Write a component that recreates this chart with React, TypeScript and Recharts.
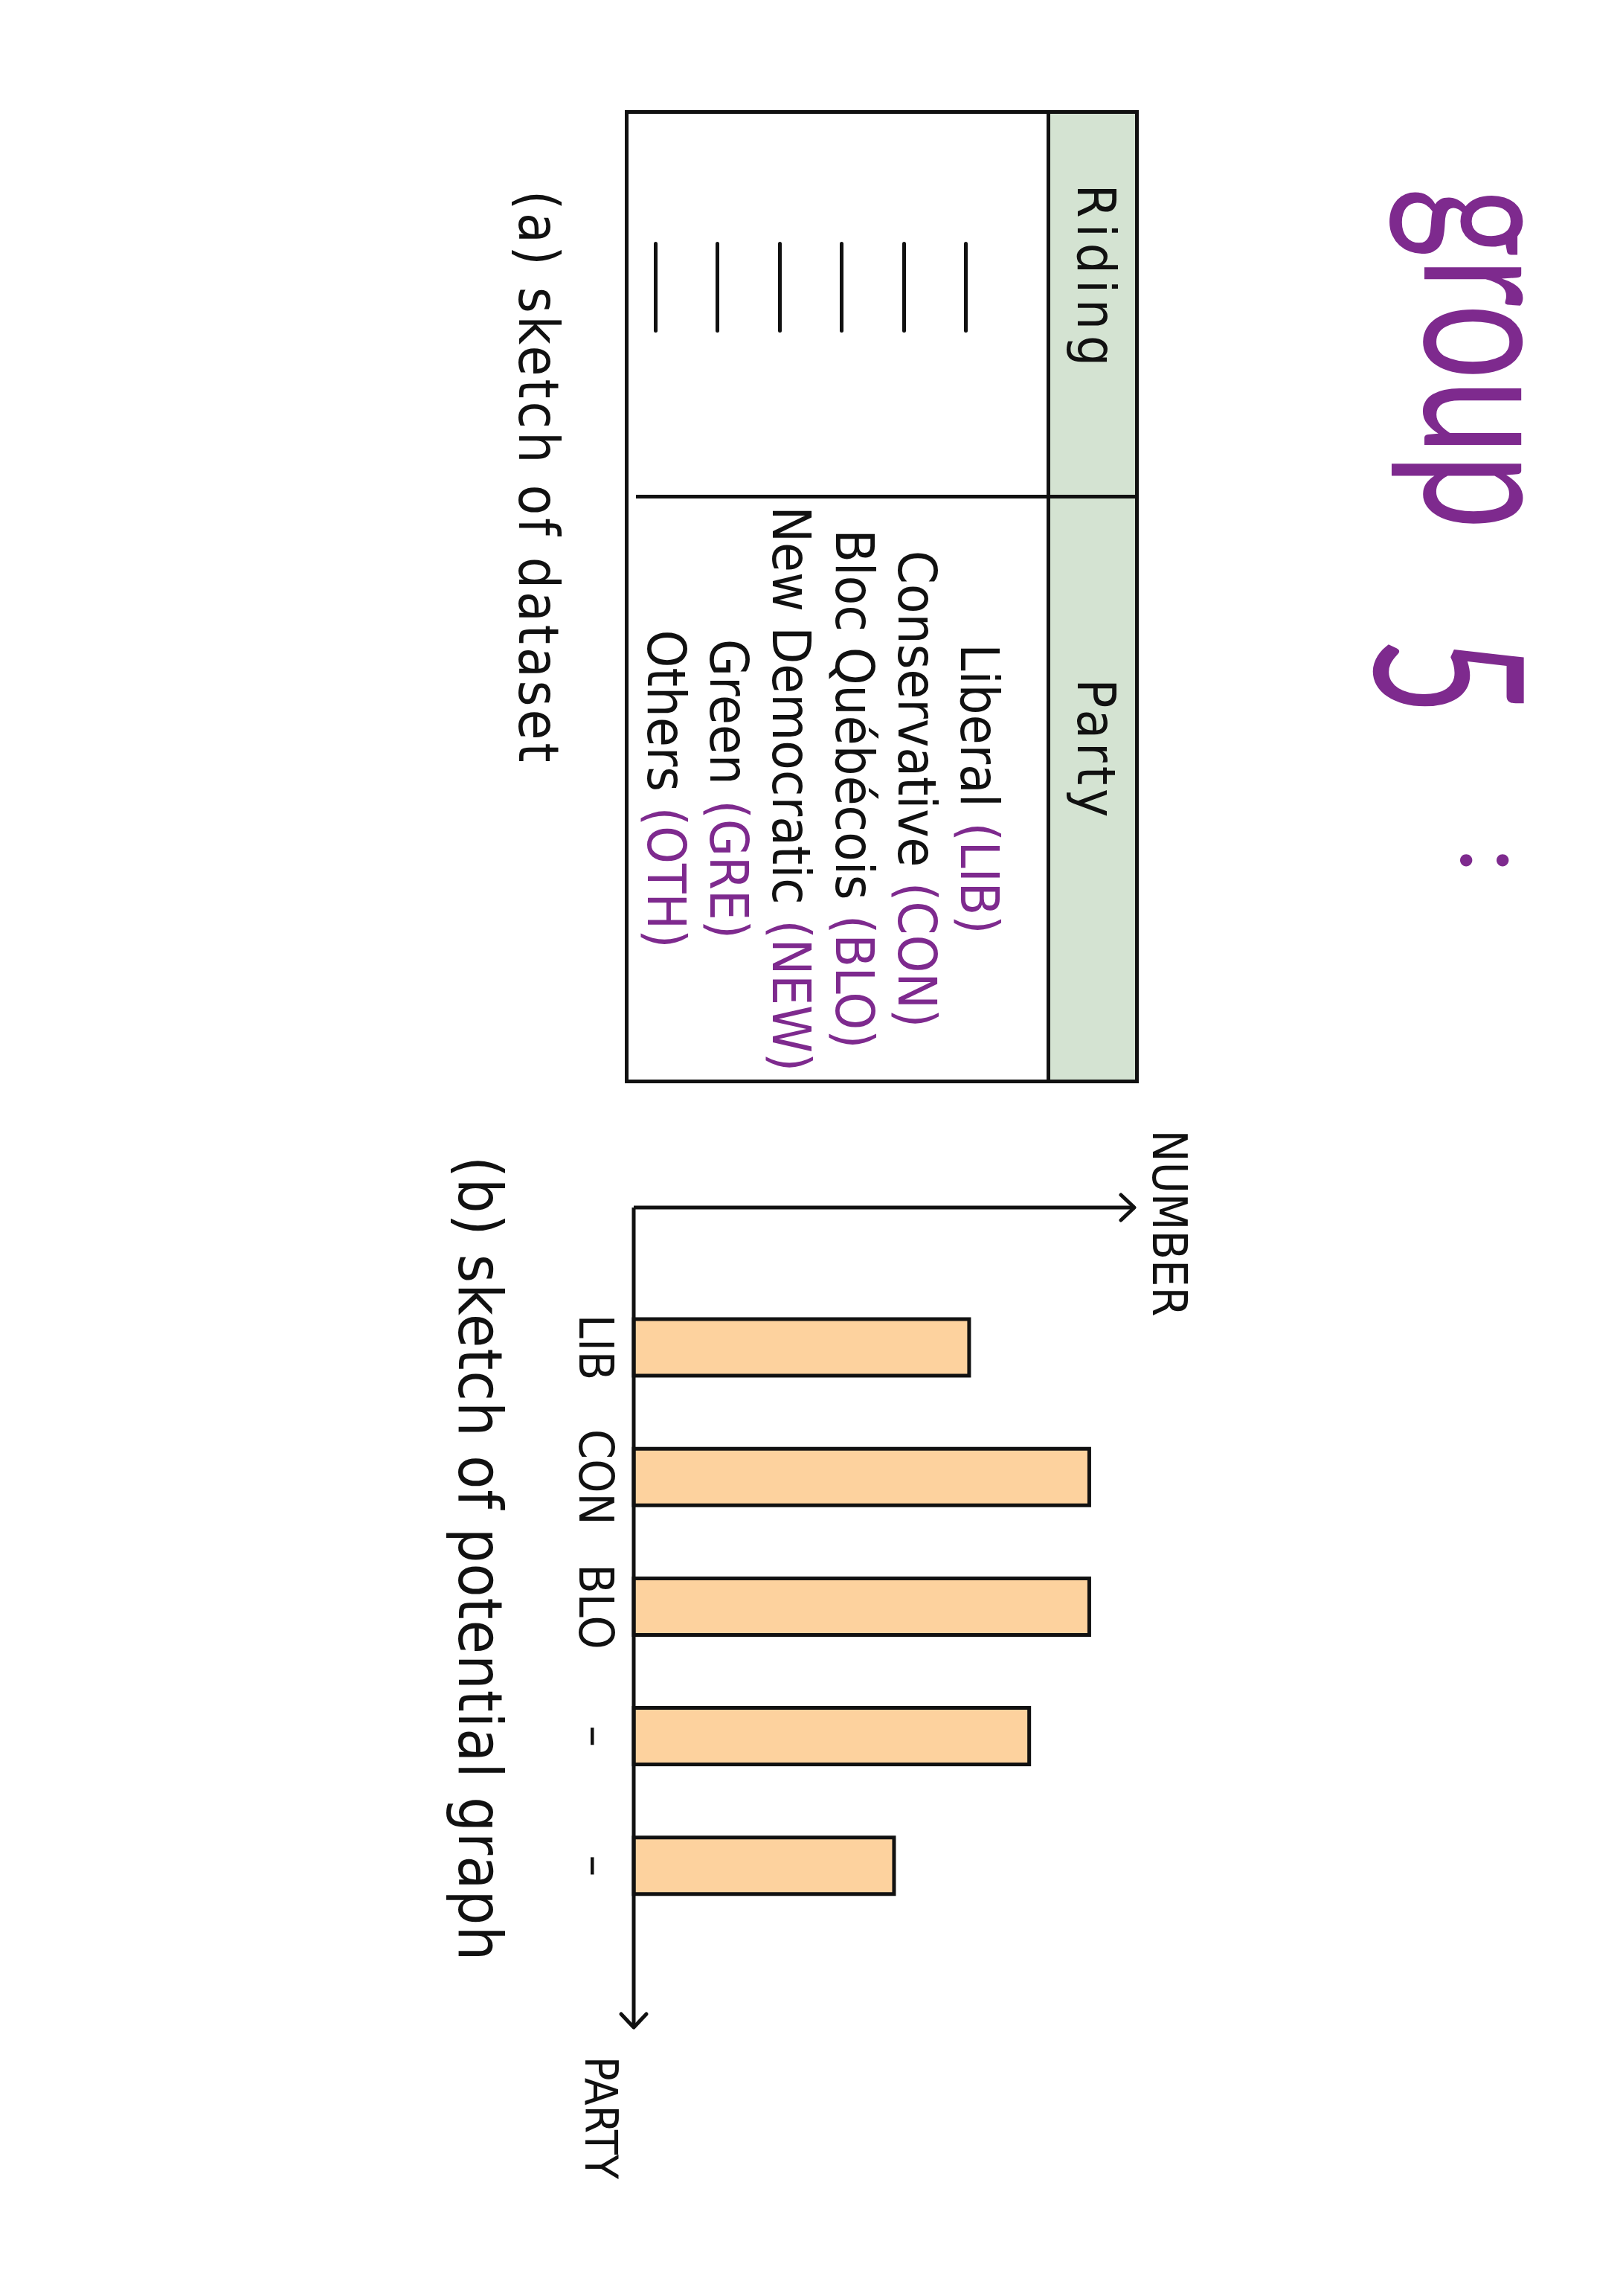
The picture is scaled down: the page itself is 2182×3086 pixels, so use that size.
import { Bar, BarChart, XAxis, YAxis } from "recharts";

// bar chart sketch: party codes along the bottom, counts going up (no scale drawn)
const partyCodes = ["LIB", "CON", "BLO", "–", "–"];
const partyCounts = [67, 91, 91, 79, 52];

// dataset sketch table
const partyNames = ["Liberal", "Conservative", "Bloc Québécois", "New Democratic", "Green", "Others"];
const partyAbbrevs = ["(LIB)", "(CON)", "(BLO)", "(NEW)", "(GRE)", "(OTH)"];
const ridingCells = ["", "", "", "", "", ""];

const chartData = partyCodes.map((code, i) => ({ id: i, code, count: partyCounts[i] }));

const HAND = '"Liberation Sans Narrow", "DejaVu Sans Condensed", "Liberation Sans", sans-serif';
const INK = "#111";
const PURPLE = "#7e2a8e";
const SAGE = "#d4e3d2";
const PEACH = "#fdd29e";

function Title() {
  const base = {
    position: "absolute" as const,
    fontFamily: "Lato, 'Open Sans', sans-serif",
    fontWeight: 400,
    color: PURPLE,
    lineHeight: 1,
    whiteSpace: "nowrap" as const,
    transformOrigin: "0 0",
  };
  return (
    <>
      <div style={{ ...base, left: 253, top: 39, fontSize: 257, transform: "scaleX(0.7)" }}>group</div>
      <div style={{ ...base, left: 856, top: 86, fontSize: 280, transform: "scaleX(0.65)" }}>5</div>
      <div style={{ ...base, left: 1140, top: 103, fontSize: 130 }}>:</div>
    </>
  );
}

function DatasetTable() {
  return (
    <div
      style={{
        position: "absolute",
        left: 148,
        top: 651,
        width: 1308,
        height: 691,
        boxSizing: "border-box",
        border: `5px solid ${INK}`,
        fontFamily: HAND,
        color: INK,
      }}
    >
      <div style={{ position: "absolute", left: 0, top: 0, right: 0, height: 114, background: SAGE, borderBottom: `5px solid ${INK}` }} />
      <div style={{ position: "absolute", left: 512, top: 0, bottom: 10, width: 5, background: INK }} />
      <div style={{ position: "absolute", left: 221 - 150, width: 300, top: 16, fontSize: 72, lineHeight: "72px", textAlign: "center", letterSpacing: 8 }}>
        Riding
      </div>
      <div style={{ position: "absolute", left: 855 - 150, width: 300, top: 16, fontSize: 72, lineHeight: "72px", textAlign: "center", letterSpacing: 5 }}>
        Party
      </div>
      {ridingCells.map((_, i) => (
        <div key={i} style={{ position: "absolute", left: 172, top: 225 + i * 83.4, width: 122, height: 5, background: INK, borderRadius: 3 }} />
      ))}
      {partyNames.map((name, i) => (
        <div
          key={name}
          style={{
            position: "absolute",
            left: 517,
            right: 0,
            top: 209 + i * 84.2 - 42,
            fontSize: 72,
            lineHeight: "84px",
            textAlign: "center",
            whiteSpace: "nowrap",
          }}
        >
          {name} <span style={{ color: PURPLE }}>{partyAbbrevs[i]}</span>
        </div>
      ))}
    </div>
  );
}

function PotentialGraph() {
  return (
    <div style={{ position: "absolute", left: 1500, top: 540 }}>
      <BarChart width={1450} height={900} data={chartData} margin={{ top: 117, right: 225, left: 0, bottom: 0 }}>
        <XAxis
          dataKey="id"
          type="category"
          tickFormatter={(i: number) => partyCodes[i]}
          height={110}
          padding={{ left: 101, right: 130 }}
          tickLine={false}
          tickSize={20}
          tickMargin={8}
          tick={{ fontSize: 64, fill: INK, fontFamily: HAND }}
          axisLine={{ stroke: INK, strokeWidth: 5, markerEnd: "url(#sketchArrow)" }}
        />
        <YAxis
          type="number"
          domain={[0, 100]}
          width={123}
          tick={false}
          tickLine={false}
          axisLine={{ stroke: INK, strokeWidth: 5, markerStart: "url(#sketchArrow)" }}
        />
        <Bar dataKey="count" fill={PEACH} stroke={INK} strokeWidth={5} barSize={76} isAnimationActive={false} />
      </BarChart>
    </div>
  );
}

export default function App() {
  const label = {
    position: "absolute" as const,
    fontFamily: HAND,
    color: INK,
    lineHeight: 1,
    whiteSpace: "nowrap" as const,
  };
  return (
    <div style={{ position: "absolute", left: 0, top: 0, width: 2182, height: 3086, background: "#fff", overflow: "hidden" }}>
      <svg width={0} height={0} style={{ position: "absolute" }}>
        <defs>
          <marker
            id="sketchArrow"
            viewBox="0 0 24 40"
            refX={21}
            refY={20}
            markerWidth={24}
            markerHeight={40}
            markerUnits="userSpaceOnUse"
            orient="auto-start-reverse"
            style={{ overflow: "visible" }}
          >
            <path d="M3,3 L21,20 L3,37" fill="none" stroke={INK} strokeWidth={5} strokeLinecap="round" strokeLinejoin="round" />
          </marker>
        </defs>
      </svg>
      {/* the sketch is drawn sideways on the page */}
      <div
        style={{
          position: "absolute",
          left: 0,
          top: 0,
          width: 3086,
          height: 2182,
          transformOrigin: "0 0",
          transform: "translate(2182px, 0) rotate(90deg)",
        }}
      >
        <Title />
        <DatasetTable />
        <div style={{ ...label, left: 256, top: 1421, fontSize: 74, letterSpacing: 4 }}>(a) sketch of dataset</div>
        <PotentialGraph />
        <div style={{ ...label, left: 1444, width: 400, textAlign: "center", top: 578, fontSize: 64 }}>NUMBER</div>
        <div style={{ ...label, left: 2764, top: 1344, fontSize: 60 }}>PARTY</div>
        <div style={{ ...label, left: 1554, top: 1496, fontSize: 82, letterSpacing: 1 }}>(b) sketch of potential graph</div>
      </div>
    </div>
  );
}
